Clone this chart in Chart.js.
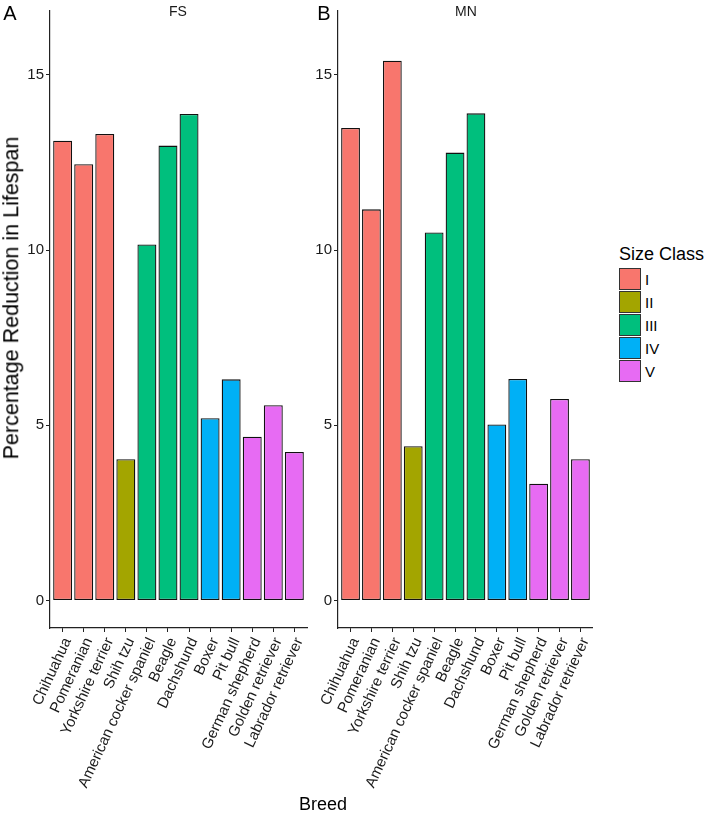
<!DOCTYPE html>
<html>
<head>
<meta charset="utf-8">
<script src="https://cdn.jsdelivr.net/npm/chart.js@4/dist/chart.umd.min.js"></script>
<style>
  html, body { margin:0; padding:0; background:#fff; overflow:hidden; }
  body { width:709px; height:813px; position:relative; font-family:"Liberation Sans", Arial, sans-serif; color:#000; }
  canvas { position:absolute; }
  .t { position:absolute; line-height:1; white-space:nowrap; color:#000; }
  .c { transform:translate(-50%,-50%); }
  .l { transform:translateY(-50%); }
  .key { position:absolute; width:20px; height:20px; border:1px solid #333; }
</style>
</head>
<body>
<canvas id="chartA" width="320" height="813" style="left:0;top:0"></canvas>
<canvas id="chartB" width="300" height="813" style="left:300px;top:0"></canvas>

<div class="t c" style="left:10px;top:13px;font-size:20px">A</div>
<div class="t c" style="left:324px;top:13px;font-size:20px">B</div>
<div class="t c" style="left:178px;top:11px;font-size:14px;color:#1a1a1a">FS</div>
<div class="t c" style="left:466px;top:11px;font-size:14px;color:#1a1a1a">MN</div>
<div class="t c" style="left:12px;top:298px;font-size:21.5px;transform:translate(-50%,-50%) rotate(-90deg)">Percentage Reduction in Lifespan</div>
<div class="t c" style="left:323px;top:804px;font-size:18px">Breed</div>
<div id="legend"></div>

<script>
const breeds = ["Chihuahua","Pomeranian","Yorkshire terrier","Shih tzu","American cocker spaniel","Beagle","Dachshund","Boxer","Pit bull","German shepherd","Golden retriever","Labrador retriever"];
const sizeClass = ["I","I","I","II","III","III","III","IV","IV","V","V","V"];
const classLabels = ["I","II","III","IV","V"];
const classColors = ["#F8766D","#A3A500","#00BF7D","#00B0F6","#E76BF3"];
const fsValues = [13.12,12.45,13.31,4.03,10.16,12.98,13.88,5.20,6.31,4.67,5.57,4.24];
const mnValues = [13.48,11.16,15.40,4.40,10.50,12.78,13.90,5.02,6.32,3.33,5.75,4.03];
const yTicks = [0,5,10,15];
const legendTitle = "Size Class";

const FONT = '"Liberation Sans", Arial, sans-serif';
const barColors = sizeClass.map(c => classColors[classLabels.indexOf(c)]);

function makeChart(id, values, yWidth, padRight) {
  const ctx = document.getElementById(id);
  return new Chart(ctx, {
    type: 'bar',
    data: {
      datasets: [{
        data: values.map((v, i) => ({x: i + 1, y: v})),
        backgroundColor: barColors,
        borderColor: '#111',
        borderWidth: 1.3,
        borderSkipped: false,
        barPercentage: 0.9,
        categoryPercentage: 1.0
      }]
    },
    options: {
      responsive: false,
      animation: false,
      devicePixelRatio: 1,
      layout: { padding: { left: 0, right: padRight, top: 0, bottom: 0 } },
      plugins: { legend: { display: false }, tooltip: { enabled: false }, title: { display: false } },
      scales: {
        x: {
          type: 'linear',
          min: 0.4, max: 12.6,
          offset: false,
          afterBuildTicks: s => { s.ticks = breeds.map((b, i) => ({value: i + 1})); },
          afterFit: s => { s.height = 813 - 628; },
          grid: { display: true, drawOnChartArea: false, drawTicks: true, tickLength: 4, color: '#222', offset: false },
          border: { display: true, color: '#222', width: 1.2 },
          ticks: {
            autoSkip: false, minRotation: 65, maxRotation: 65, padding: 3, labelOffset: 5,
            font: { family: FONT, size: 15 }, color: '#1a1a1a',
            callback: v => breeds[Math.round(v) - 1]
          }
        },
        y: {
          min: -0.785, max: 16.82,
          afterBuildTicks: s => { s.ticks = yTicks.map(v => ({value: v})); },
          afterFit: s => { s.width = yWidth; },
          grid: { display: true, drawOnChartArea: false, drawTicks: true, tickLength: 4, color: '#222' },
          border: { display: true, color: '#222', width: 1.2 },
          ticks: { padding: 2, font: { family: FONT, size: 15 }, color: '#1a1a1a' }
        }
      }
    }
  });
}

makeChart('chartA', fsValues, 50, 13);
makeChart('chartB', mnValues, 38, 5);

// legend
const lg = document.getElementById('legend');
let html = `<div class="t l" style="left:619px;top:254px;font-size:18px">${legendTitle}</div>`;
classLabels.forEach((lab, i) => {
  const top = 268 + i * 23;
  html += `<div class="key" style="left:619px;top:${top}px;background:${classColors[i]}"></div>`;
  html += `<div class="t l" style="left:645px;top:${top + 11}px;font-size:15px">${lab}</div>`;
});
lg.innerHTML = html;
</script>
</body>
</html>
